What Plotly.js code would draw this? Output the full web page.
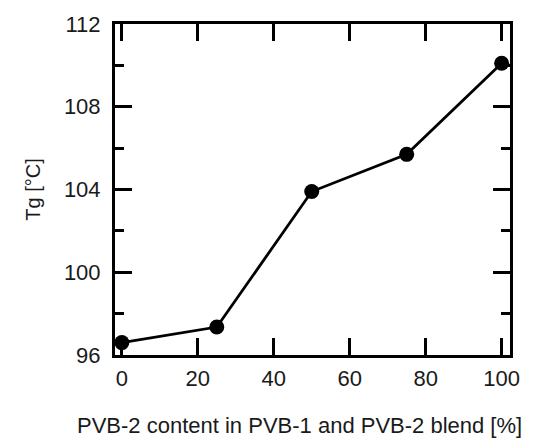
<!DOCTYPE html>
<html>
<head>
<meta charset="utf-8">
<script src="https://cdn.plot.ly/plotly-3.0.1.min.js"></script>
<style>html,body{margin:0;padding:0;background:#fff;}#chart{width:541px;height:448px;}</style>
</head>
<body>
<div id="chart"></div>
<script>
const pvb2Content = [0, 25, 50, 75, 100];
const tgValues = [96.6, 97.35, 103.9, 105.7, 110.1];
const xTickVals = [0, 20, 40, 60, 80, 100];
const yTickVals = [96, 100, 104, 108, 112];
const xTitle = 'PVB-2 content in PVB-1 and PVB-2 blend [%]';
const yTitle = 'Tg [°C]';

const trace = {
  x: pvb2Content,
  y: tgValues,
  mode: 'lines+markers',
  type: 'scatter',
  line: {color: '#000', width: 2.8},
  marker: {color: '#000', size: 15},
  cliponaxis: false,
  hoverinfo: 'skip'
};

const font = {family: 'Liberation Sans, Arial, sans-serif', size: 22, color: '#1a1a1a'};
const titleFontY = {family: 'Liberation Sans, Arial, sans-serif', size: 20, color: '#1a1a1a'};

const layout = {
  width: 541, height: 448,
  margin: {l: 115, r: 31, t: 24, b: 93},
  paper_bgcolor: '#fff', plot_bgcolor: '#fff',
  showlegend: false,
  font: font,
  xaxis: {
    range: [-1.8, 102.2],
    tickvals: xTickVals,
    ticktext: xTickVals.map(String),
    ticks: 'inside', ticklen: 17, tickwidth: 3, tickcolor: '#000',
    showline: true, linewidth: 3, linecolor: '#000', mirror: 'allticks',
    showgrid: false, zeroline: false,
    ticklabelstandoff: 2,
    tickfont: font
  },
  yaxis: {
    range: [96, 112],
    tickvals: yTickVals,
    ticktext: yTickVals.map(String),
    ticks: 'inside', ticklen: 17, tickwidth: 3, tickcolor: '#000',
    minor: {dtick: 2, ticks: 'inside', ticklen: 9, tickwidth: 3, tickcolor: '#000', showgrid: false},
    showline: true, linewidth: 3, linecolor: '#000', mirror: 'allticks',
    showgrid: false, zeroline: false,
    ticklabelstandoff: 7,
    tickfont: font,
    title: {text: yTitle, font: titleFontY, standoff: 18}
  },
  annotations: [{
    text: xTitle, xref: 'paper', yref: 'paper',
    x: 0.466, y: -0.2115, xanchor: 'center', yanchor: 'middle',
    showarrow: false, font: font
  }]
};

Plotly.newPlot('chart', [trace], layout, {displayModeBar: false, staticPlot: true});
</script>
</body>
</html>
